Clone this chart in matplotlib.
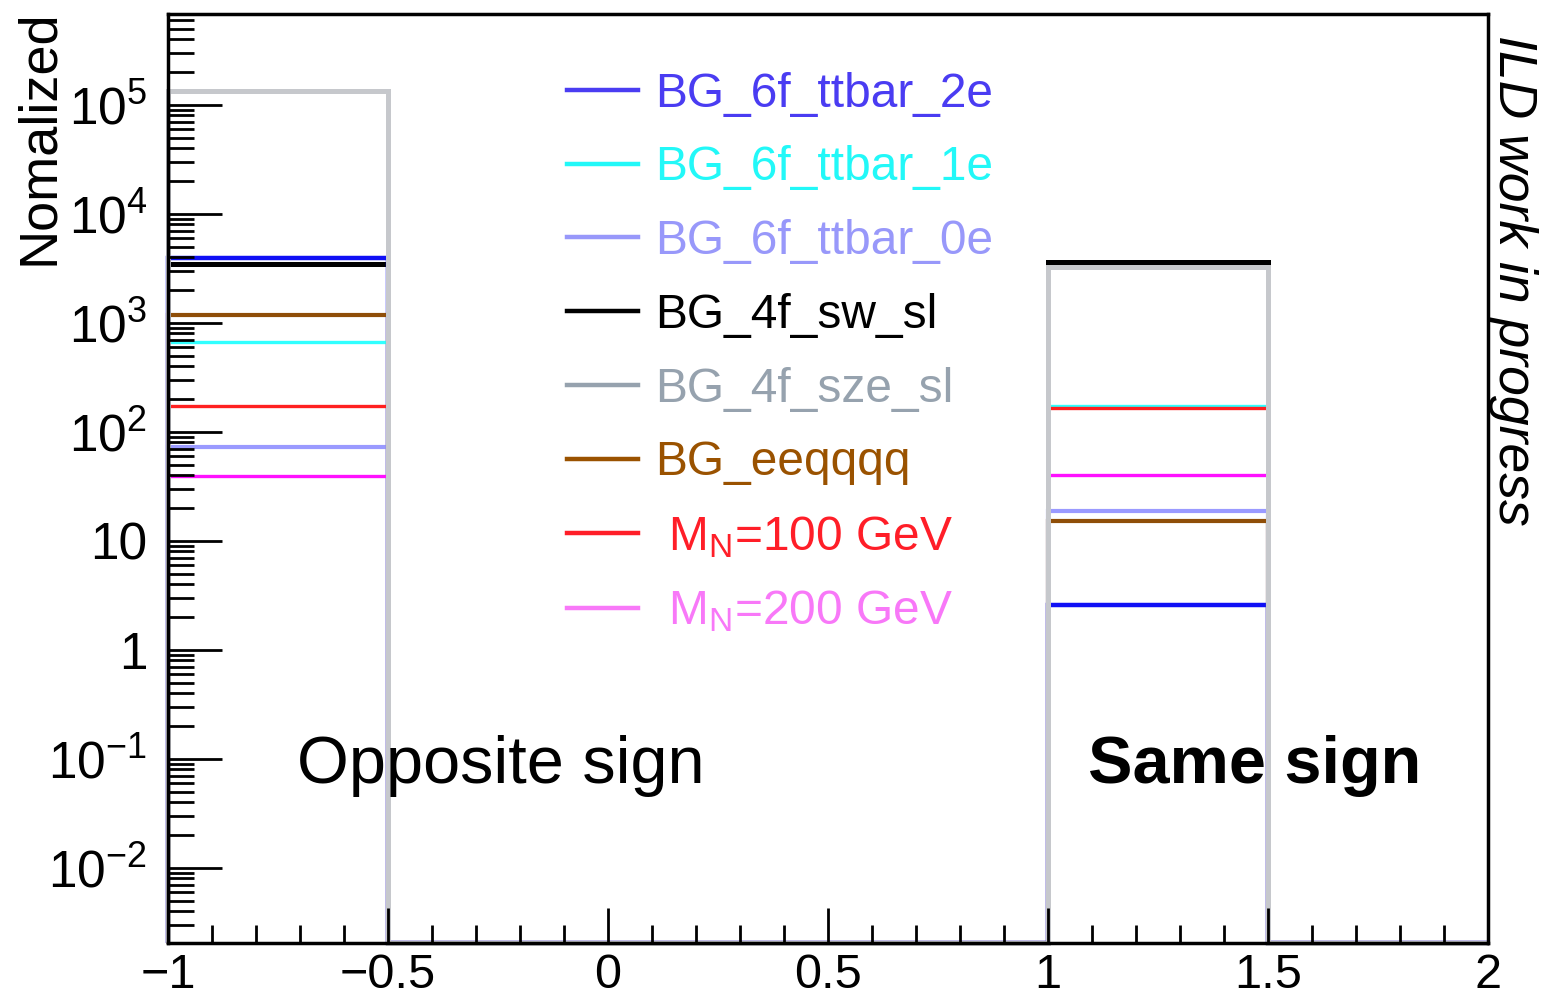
import numpy as np
import matplotlib
matplotlib.use("Agg")
import matplotlib.pyplot as plt
from matplotlib.ticker import FixedLocator, MultipleLocator, NullFormatter

plt.rcParams['font.family'] = ['Liberation Sans', 'DejaVu Sans']
plt.rcParams['mathtext.fontset'] = 'custom'
plt.rcParams['mathtext.rm'] = 'Liberation Sans'

# bin edges (charge product), 6 bins of 0.5
edges = [-1.0, -0.5, 0.0, 0.5, 1.0, 1.5, 2.0]

# normalized yields per bin (0 = empty bin)
labels = ["BG_6f_ttbar_2e", "BG_6f_ttbar_1e", "BG_6f_ttbar_0e", "BG_4f_sw_sl",
          "BG_4f_sze_sl", "BG_eeqqqq", " M$_\\mathregular{N}$=100 GeV", " M$_\\mathregular{N}$=200 GeV"]
ttbar_2e = [3950, 0, 0, 0, 2.6, 0]
ttbar_1e = [670, 0, 0, 0, 172, 0]
ttbar_0e = [73, 0, 0, 0, 18.8, 0]
sw_sl = [3480, 0, 0, 0, 3600, 0]
sze_sl = [135000, 0, 0, 0, 3250, 0]
eeqqqq = [1180, 0, 0, 0, 15.2, 0]
mn100 = [173, 0, 0, 0, 165, 0]
mn200 = [39.5, 0, 0, 0, 40, 0]

line_colors = ['#1010f5', '#30ffff', '#9a9aff', '#000000', '#c6c8cc', '#8f4e08', '#ff2020', '#ff10ff']
text_colors = ['#4a3cf2', '#22f8f8', '#9898fa', '#000000', '#96a2ae', '#9a5200', '#ff1e28', '#f878f8']
widths = [3.2, 2.4, 3.0, 3.6, 3.6, 3.0, 2.4, 2.4]

ymin, ymax = 2.05e-3, 6.8e5

fig = plt.figure(figsize=(15.41, 9.97), dpi=100)
ax = fig.add_axes([0.109, 0.0542, 0.8566, 0.9318])

series = [ttbar_2e, ttbar_1e, ttbar_0e, sw_sl, sze_sl, eeqqqq, mn100, mn200]
order = [3, 0, 1, 2, 5, 6, 7, 4]
handles = {}
for i in order:
    vals = np.array(series[i], dtype=float)
    vals = np.where(vals > 0, vals, ymin)  # empty bins sit on the axis floor, ROOT style
    h = ax.stairs(vals, edges, baseline=ymin, color=line_colors[i], lw=widths[i],
                  label=labels[i], clip_on=False)
    handles[i] = h

ax.set_yscale('log')
ax.set_xlim(-1, 2)
ax.set_ylim(ymin, ymax)

yticks = [1e-2, 1e-1, 1, 10, 1e2, 1e3, 1e4, 1e5]
ytick_labels = ['10$^{\u22122}$', '10$^{\u22121}$', '1', '10', '10$^{2}$', '10$^{3}$', '10$^{4}$', '10$^{5}$']
ax.yaxis.set_major_locator(FixedLocator(yticks))
ax.set_yticklabels(ytick_labels)
minor = [k * 10.0 ** d for d in range(-3, 6) for k in range(2, 10)]
ax.yaxis.set_minor_locator(FixedLocator(minor))
ax.yaxis.set_minor_formatter(NullFormatter())

ax.set_xticks([-1, -0.5, 0, 0.5, 1, 1.5, 2])
ax.set_xticklabels(['\u22121', '\u22120.5', '0', '0.5', '1', '1.5', '2'])
ax.xaxis.set_minor_locator(MultipleLocator(0.1))

ax.tick_params(axis='y', which='major', direction='in', length=39, width=2, labelsize=37, pad=15, right=False)
ax.tick_params(axis='y', which='minor', direction='in', length=19, width=2, right=False)
ax.tick_params(axis='x', which='major', direction='in', length=25, width=2, labelsize=35, pad=7, top=False)
ax.tick_params(axis='x', which='minor', direction='in', length=13, width=2, top=False)
for s in ax.spines.values():
    s.set_linewidth(2.5)

ax.set_ylabel('Nomalized', fontsize=39, loc='top')
ax.yaxis.set_label_coords(-0.079, 1.005)

leg_handles = [handles[i] for i in range(8)]
leg = ax.legend(leg_handles, labels, loc='upper left', bbox_to_anchor=(0.302, 0.938),
                frameon=False, fontsize=34.5, handlelength=1.5, handletextpad=0.35,
                labelspacing=0.6, borderpad=0, borderaxespad=0)
for t, c in zip(leg.get_texts(), text_colors):
    t.set_color(c)
for lh, c in zip(leg.legend_handles, text_colors):
    lh.set_color(c)
    lh.set_linewidth(3.2)

ax.text(0.098, 0.19, 'Opposite sign', transform=ax.transAxes, fontsize=48, va='center', ha='left')
ax.text(0.8235, 0.19, 'Same sign', transform=ax.transAxes, fontsize=48, fontweight='bold',
        va='center', ha='center')
fig.text(0.982, 0.965, 'ILD work in progress', fontsize=38.5, style='italic', rotation=-90,
         ha='center', va='top')

fig.savefig('out.png', dpi=100)
